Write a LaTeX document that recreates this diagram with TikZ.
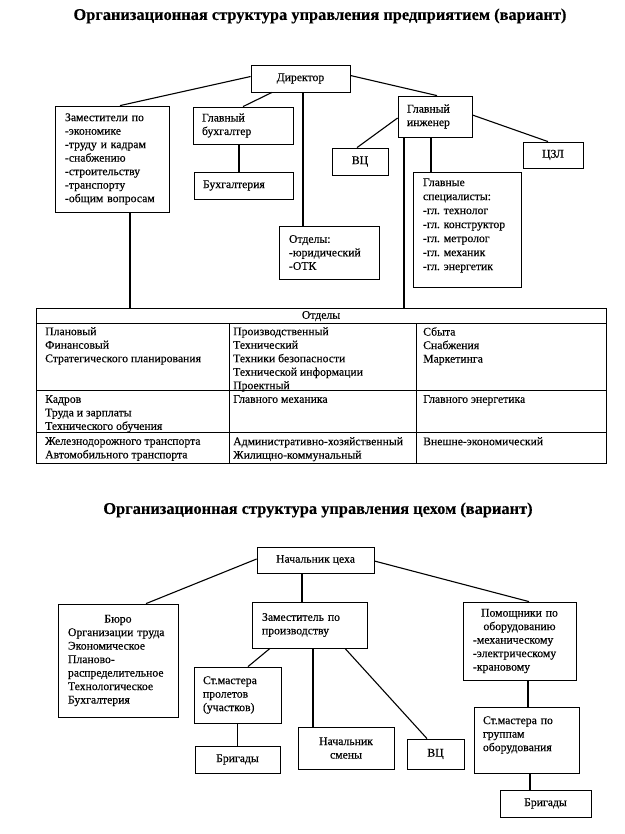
\documentclass[tikz,border=0pt]{standalone}
\usepackage{fontspec}
\setmainfont{Liberation Serif}[FakeBold=0.3]
\newfontfamily\ttlfont{Liberation Serif}[FakeBold=0.2]
\frenchspacing
\newcommand\padbottom[1]{\par\vspace{#1}\hrule height 0pt}
\begin{document}
\begin{tikzpicture}[x=1pt,y=-1pt,
  box/.style={draw, line width=0.8pt, inner ysep=0pt, font=\fontsize{11.7}{13.5}\selectfont},
  lbox/.style={box, align=left},
  cbox/.style={box, align=center},
  conn/.style={line width=1.1pt},
  cell/.style={anchor=north west, inner sep=0pt, align=left, font=\fontsize{11.7}{13.5}\selectfont},
  ttl/.style={font=\ttlfont\fontsize{16.4}{19}\selectfont\bfseries}]
\useasboundingbox[fill=white] (0,0) rectangle (624,834);
% ---------- top chart ----------
\node[ttl] (t1) at (320,16) {Организационная структура управления предприятием (вариант)};
\node[cbox, minimum width=99pt, minimum height=27pt] (dir) at (300.5,78.5) {Директор};
\node[lbox, minimum width=114pt, minimum height=106pt, inner xsep=10pt, text width=94pt] (zam) at (112,159)
  {Заместители по\\-экономике\\-труду и кадрам\\-снабжению\\-строительству\\-транспорту\\-общим вопросам};
\node[lbox, minimum width=100pt, minimum height=37pt, inner xsep=9pt, text width=82pt] (gb) at (243,125.5)
  {Главный\\бухгалтер};
\node[lbox, minimum width=99pt, minimum height=27pt, inner xsep=9pt, text width=81pt] (buh) at (243.5,185.5)
  {Бухгалтерия};
\node[lbox, minimum width=100pt, minimum height=53pt, inner xsep=10pt, text width=80pt] (otd) at (329,252.5)
  {Отделы:\\-юридический\\-ОТК};
\node[lbox, minimum width=74pt, minimum height=41pt, inner xsep=9pt, text width=56pt] (gi) at (435,116.5)
  {Главный\\инженер};
\node[cbox, minimum width=56pt, minimum height=27pt] (vc1) at (360,161.5) {ВЦ};
\node[cbox, minimum width=60pt, minimum height=26pt] (czl) at (553,155) {ЦЗЛ};
\node[lbox, minimum width=108pt, minimum height=115pt, inner xsep=10pt, text width=88pt,
  font=\fontsize{11.7}{14}\selectfont] (gs) at (467,229.5)
  {Главные\\специалисты:\\-гл. технолог\\-гл. конструктор\\-гл. метролог\\-гл. механик\\-гл. энергетик\padbottom{8pt}};
% table
\node[draw, line width=0.8pt, minimum width=570pt, minimum height=155pt, inner sep=0pt] (tab) at (321,385.5) {};
\draw[line width=0.8pt] (36,323) -- (606,323);
\draw[line width=0.8pt] (36,390) -- (606,390);
\draw[line width=0.8pt] (36,432) -- (606,432);
\draw[line width=0.8pt] (229,323) -- (229,463);
\draw[line width=0.8pt] (416,323) -- (416,463);
\node[inner sep=0pt, font=\fontsize{11.7}{13.5}\selectfont] (hdr) at (321,316) {Отделы};
\node[cell] (c11) at (45,327) {Плановый\\Финансовый\\Стратегического планирования};
\node[cell] (c12) at (233,327) {Производственный\\Технический\\Техники безопасности\\Технической информации\\Проектный};
\node[cell] (c13) at (423,327) {Сбыта\\Снабжения\\Маркетинга};
\node[cell] (c21) at (45,395) {Кадров\\Труда и зарплаты\\Технического обучения};
\node[cell] (c22) at (233,395) {Главного механика};
\node[cell] (c23) at (423,395) {Главного энергетика};
\node[cell] (c31) at (45,437) {Железнодорожного транспорта\\Автомобильного транспорта};
\node[cell] (c32) at (233,437) {Административно-хозяйственный\\Жилищно-коммунальный};
\node[cell] (c33) at (423,437) {Внешне-экономический};
% connectors top
\draw[conn] ([yshift=2pt]dir.west) -- ([xshift=8pt]zam.north);
\draw[conn] ([xshift=-28.5pt]dir.south) -- (gb.north);
\draw[conn] ([xshift=2.5pt]dir.south) -- ([xshift=2.5pt]dir.south |- otd.north);
\draw[conn] ([yshift=3pt]dir.east) -- ([xshift=2pt]gi.north);
\draw[conn] ([xshift=-4pt]gb.south) -- ([xshift=-4pt]gb.south |- buh.north);
\draw[conn] ([yshift=-1.5pt]gi.west) -- ([xshift=-3pt]vc1.north);
\draw[conn] ([yshift=1.5pt]gi.east) -- ([xshift=-5pt]czl.north);
\draw[conn] ([xshift=-4pt]gi.south) -- ([xshift=-4pt]gi.south |- gs.north);
\draw[conn] ([xshift=-31pt]gi.south) -- ([xshift=-31pt]gi.south |- tab.north);
\draw[conn] ([xshift=18pt]zam.south) -- ([xshift=18pt]zam.south |- tab.north);
% ---------- bottom chart ----------
\node[ttl] (t2) at (318,510) {Организационная структура управления цехом (вариант)};
\node[cbox, minimum width=117pt, minimum height=26pt] (nach) at (315.5,560) {Начальник цеха};
\node[lbox, minimum width=120pt, minimum height=113pt, inner xsep=10pt, text width=100pt] (buro) at (118,660.5)
  {{\centering Бюро\par}Организации труда\\Экономическое\\Планово-\\распределительное\\Технологическое\\Бухгалтерия};
\node[lbox, minimum width=115pt, minimum height=46pt, inner xsep=10pt, text width=95pt] (zp) at (309.5,625)
  {Заместитель по\\производству};
\node[lbox, minimum width=87pt, minimum height=56pt, inner xsep=9pt, text width=69pt] (stm1) at (237.5,695)
  {Ст.мастера\\пролетов\\(участков)};
\node[cbox, minimum width=85pt, minimum height=27pt] (br1) at (237.5,759.5) {Бригады};
\node[cbox, minimum width=96pt, minimum height=42pt] (ns) at (346,748) {Начальник\\смены};
\node[cbox, minimum width=57pt, minimum height=30pt] (vc2) at (435.5,754) {ВЦ};
\node[lbox, minimum width=113pt, minimum height=78pt, inner xsep=10pt, text width=93pt] (pom) at (519.5,641)
  {{\centering Помощники по\\оборудованию\par}-механическому\\-электрическому\\-крановому};
\node[lbox, minimum width=105pt, minimum height=66pt, inner xsep=9pt, text width=87pt] (stm2) at (526.5,740)
  {Ст.мастера по\\группам\\оборудования\padbottom{10pt}};
\node[cbox, minimum width=91pt, minimum height=27pt] (br2) at (545.5,803.5) {Бригады};
% connectors bottom
\draw[conn] ([yshift=1pt]nach.west) -- ([xshift=28pt]buro.north);
\draw[conn] ([xshift=-13.5pt]nach.south) -- ([xshift=-13.5pt]nach.south |- zp.north);
\draw[conn] ([yshift=-1pt]nach.east) -- ([xshift=9.5pt]pom.north);
\draw[conn] ([xshift=-39.5pt]zp.south) -- ([xshift=10.5pt]stm1.north);
\draw[conn] ([xshift=3.5pt]zp.south) -- ([xshift=3.5pt]zp.south |- ns.north);
\draw[conn] ([xshift=35.5pt]zp.south) -- ([xshift=-8.5pt]vc2.north);
\draw[conn] (stm1.south) -- (br1.north);
\draw[conn] ([xshift=8.5pt]pom.south) -- ([xshift=8.5pt]pom.south |- stm2.north);
\draw[conn] ([xshift=3.5pt]stm2.south) -- ([xshift=3.5pt]stm2.south |- br2.north);
\end{tikzpicture}
\end{document}
